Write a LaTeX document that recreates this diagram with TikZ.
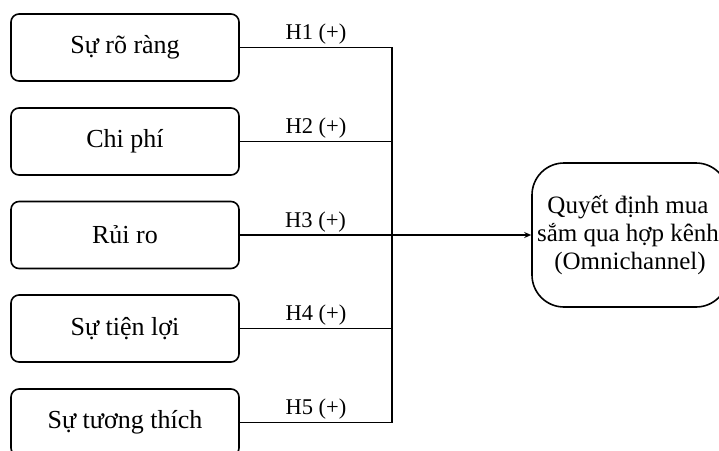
\documentclass[tikz,border=0pt]{standalone}
\usepackage{fontspec}
\setmainfont{Liberation Serif}
\usetikzlibrary{arrows.meta}
\begin{document}
\begin{tikzpicture}[x=1pt,y=-1pt,
  factor/.style={draw,line width=1.6pt,rounded corners=8pt,minimum width=228pt,minimum height=67pt,inner sep=0pt,font=\fontsize{26}{30}\selectfont},
  outcome/.style={draw,line width=1.6pt,rounded corners=32pt,minimum width=196pt,minimum height=144pt,inner sep=0pt,align=center,font=\fontsize{25}{28}\selectfont},
  conn/.style={line width=1.3pt},
  hlabel/.style={above,inner sep=2.5pt,font=\fontsize{22.5}{26}\selectfont}]
\useasboundingbox (0,0) rectangle (719,450);
\clip (0,0) rectangle (719,450);
\node[factor] (a1) at (125,47.5) {Sự rõ ràng};
\node[factor] (a2) at (125,141.5) {Chi phí};
\node[factor] (a3) at (125,235) {Rủi ro};
\node[factor] (a4) at (125,328.5) {Sự tiện lợi};
\node[factor] (a5) at (125,422.5) {Sự tương thích};
\node[outcome] (out) at (630,235) {\hspace*{-4pt}Quyết định mua\\\hspace*{-4pt}sắm qua hợp kênh\\(Omnichannel)};
\coordinate (bus) at (392,0);
\draw[conn] (a1.east) -- node[hlabel]{H1 (+)} (a1.east -| bus) -- (a5.east -| bus);
\draw[conn] (a2.east) -- node[hlabel]{H2 (+)} (a2.east -| bus);
\draw[conn,-{Stealth[length=7pt,width=6pt]}] (a3.east) -- node[hlabel,pos=0.26]{H3 (+)} (out.west);
\draw[conn] (a4.east) -- node[hlabel]{H4 (+)} (a4.east -| bus);
\draw[conn] (a5.east) -- node[hlabel]{H5 (+)} (a5.east -| bus);
\end{tikzpicture}
\end{document}
